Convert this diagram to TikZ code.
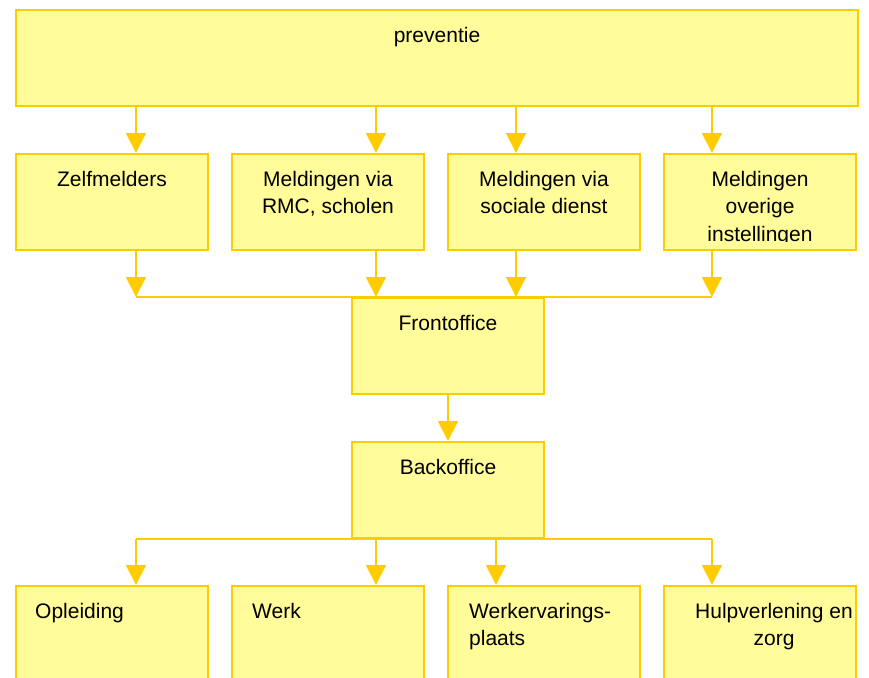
\documentclass[tikz,border=0pt]{standalone}
\usepackage{fontspec}
\setmainfont{Liberation Sans}
\usepackage{tikz}
\usetikzlibrary{arrows.meta}

\definecolor{vakrand}{HTML}{FFCC00}
\definecolor{vakvul}{HTML}{FFFC99}

\begin{document}
\begin{tikzpicture}[x=1pt,y=-1pt,
		vak/.style={draw=vakrand,fill=vakvul,line width=2pt,rectangle,inner sep=0pt,minimum width=192pt,minimum height=96pt},
		tekst/.style={font=\fontsize{21}{27.5}\selectfont,inner sep=0pt,align=center,anchor=north},
		lijn/.style={draw=vakrand,line width=2pt},
		pijl/.style={lijn,-{Triangle[width=20pt,length=20pt]}}]
				\useasboundingbox (0,0) rectangle (869,677);
				% bovenste vak
				\node[vak,minimum width=842pt] (prev) at (437,58) {};
				\node[tekst] at ([yshift=-18]prev.north) {preventie};
				% meldingen
				\node[vak] (zelf) at (112,202) {};
				\node[vak] (rmc) at (328,202) {};
				\node[vak] (soc) at (544,202) {};
				\node[vak] (overig) at (760,202) {};
				\node[tekst] at ([yshift=-18]zelf.north) {Zelfmelders};
				\node[tekst] at ([yshift=-18]rmc.north) {Meldingen via\\RMC, scholen};
				\node[tekst] at ([yshift=-18]soc.north) {Meldingen via\\sociale dienst};
				\begin{scope}
					\clip (overig.north west) rectangle ([yshift=10]overig.south east);
					\node[tekst] at ([yshift=-18]overig.north) {Meldingen\\overige\\instellingen};
				\end{scope}
				% front- en backoffice
				\node[vak] (fo) at (448,346) {};
				\node[tekst] at ([yshift=-18]fo.north) {Frontoffice};
				\node[vak] (bo) at (448,490) {};
				\node[tekst] at ([yshift=-18]bo.north) {Backoffice};
				% trajecten
				\node[vak] (opl) at (112,634) {};
				\node[vak] (werk) at (328,634) {};
				\node[vak] (wep) at (544,634) {};
				\node[vak] (hulp) at (760,634) {};
				\node[tekst,anchor=north west] at ([xshift=20,yshift=-18]opl.north west) {Opleiding};
				\node[tekst,anchor=north west] at ([xshift=21,yshift=-18]werk.north west) {Werk};
				\node[tekst,anchor=north west,align=left] at ([xshift=22,yshift=-18]wep.north west) {Werkervarings-\\plaats};
				\node[tekst] at ([xshift=14,yshift=-18]hulp.north) {Hulpverlening en\\zorg};
				% pijlen
				\draw[pijl] ([xshift=24]zelf.north |- prev.south) -- ([xshift=24]zelf.north);
				\draw[pijl] ([xshift=48]rmc.north |- prev.south) -- ([xshift=48]rmc.north);
				\draw[pijl] ([xshift=-28]soc.north |- prev.south) -- ([xshift=-28]soc.north);
				\draw[pijl] ([xshift=-48]overig.north |- prev.south) -- ([xshift=-48]overig.north);
				\draw[pijl] ([xshift=24]zelf.south) -- ([xshift=24]zelf.south |- fo.north);
				\draw[pijl] ([xshift=48]rmc.south) -- ([xshift=48]rmc.south |- fo.north);
				\draw[pijl] ([xshift=-28]soc.south) -- ([xshift=-28]soc.south |- fo.north);
				\draw[pijl] ([xshift=-48]overig.south) -- ([xshift=-48]overig.south |- fo.north);
				\draw[lijn] ([xshift=24]zelf.south |- fo.north) -- ([xshift=-48]overig.south |- fo.north);
				\draw[pijl] (fo.south) -- (bo.north);
				\draw[lijn] ([xshift=24]opl.north |- bo.south) -- ([xshift=-48]hulp.north |- bo.south);
				\draw[pijl] ([xshift=24]opl.north |- bo.south) -- ([xshift=24]opl.north);
				\draw[pijl] ([xshift=48]werk.north |- bo.south) -- ([xshift=48]werk.north);
				\draw[pijl] ([xshift=-48]wep.north |- bo.south) -- ([xshift=-48]wep.north);
				\draw[pijl] ([xshift=-48]hulp.north |- bo.south) -- ([xshift=-48]hulp.north);
			\end{tikzpicture}
\end{document}
